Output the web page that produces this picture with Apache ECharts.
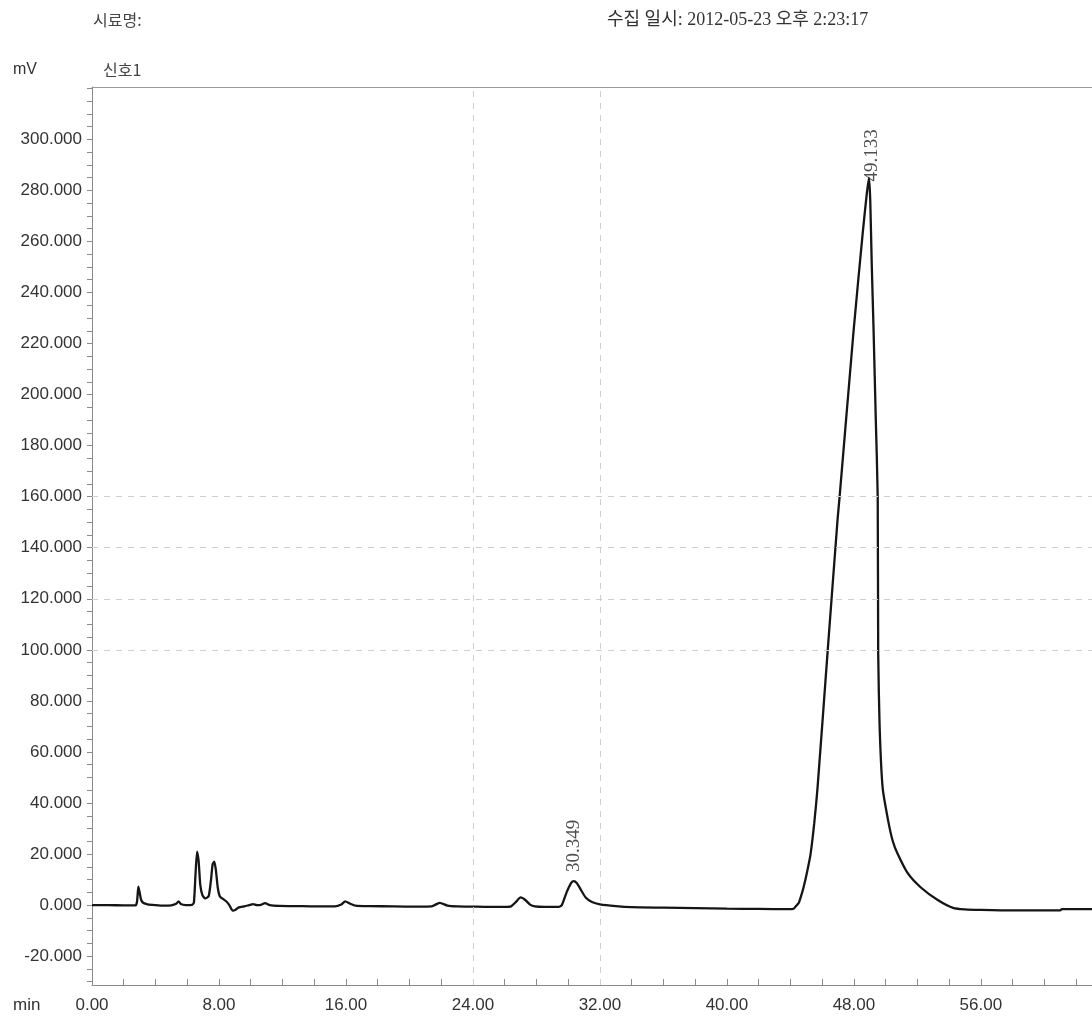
<!DOCTYPE html>
<html><head><meta charset="utf-8">
<script src="https://cdn.jsdelivr.net/npm/echarts@6/dist/echarts.min.js"></script>
<style>html,body{margin:0;padding:0;background:#fff}#c{width:1092px;height:1018px}</style>
</head><body><div id="c"></div>
<script>
// retention time (min)
const times = [0,1,2,2.75,2.84,2.92,3.0,3.1,3.25,3.5,4,4.5,5,5.3,5.45,5.6,5.9,6.3,6.42,6.52,6.62,6.72,6.82,6.95,7.13,7.35,7.5,7.6,7.7,7.8,7.92,8.05,8.25,8.45,8.65,8.87,9.05,9.25,9.6,9.9,10.15,10.4,10.65,10.9,11.2,11.8,13,14,15.3,15.7,15.95,16.25,16.6,17.5,19,20.5,21.4,21.9,22.4,23,24,25,26,26.4,26.7,27,27.3,27.6,27.9,28.5,29.4,29.6,29.9,30.2,30.35,30.55,30.8,31.1,31.5,32,33,34,36,38,40,42,43.9,44.2,44.36,44.52,44.67,44.83,45.05,45.27,45.5,45.71,46.34,46.97,47.1,47.98,48.55,48.8,48.95,49.03,49.12,49.24,49.38,49.5,49.53,49.62,49.81,50.16,50.45,50.76,51.39,52.2,53.28,54.29,55.0,56,58,60,61,61.1,62,63];
// detector signal (mV)
const signal = [0,0,-0.1,-0.1,1.5,7.2,5.0,2.0,0.8,0.3,0,-0.2,-0.1,0.5,1.5,0.4,0,0.1,1.0,12,20.9,17,8,4,2.6,3.5,10,16,17,14,7,3.5,2.4,1.5,0,-2.2,-1.8,-0.9,-0.5,0,0.4,0,0.1,0.8,0,-0.3,-0.4,-0.5,-0.5,0.2,1.5,0.6,-0.2,-0.4,-0.5,-0.6,-0.5,0.9,-0.2,-0.5,-0.6,-0.7,-0.7,-0.5,1.2,3,2,0.2,-0.5,-0.7,-0.7,0,5,8.8,9.4,8.6,6,3,1.2,0.3,-0.4,-0.8,-1.0,-1.2,-1.4,-1.5,-1.6,-1.4,-0.3,0.8,3.5,7,13,20,32,46,99,151,160,225,263,278,285,276,252,225,190,160,99,70,46,33,25,20,12.5,7,2,-1.2,-1.7,-1.9,-2.1,-2.1,-2.1,-1.6,-1.6,-1.6];
// labelled peaks
const peakTimes = [30.349, 49.133];
const peakHeights = [9.4, 285];
const peakLabels = ['30.349', '49.133'];
// axis ticks / labels
const yLabelValues = [-20,0,20,40,60,80,100,120,140,160,180,200,220,240,260,280,300];
const yTickValues = [];
for (let v = -30; v <= 320; v += 5) yTickValues.push(v);
const xLabelValues = [0,8,16,24,32,40,48,56];
const xTickValues = [];
for (let v = 0; v <= 62; v += 2) xTickValues.push(v);
const dashedY = [100,120,140,160];
const dashedX = [24,32];

const chart = echarts.init(document.getElementById('c'));
const axisGray = '#8a8a8a';
const textCol = '#333';
chart.setOption({
  animation: false,
  backgroundColor: '#fff',
  grid: { left: 92, top: 87, right: 0, bottom: 33, containLabel: false, outerBoundsMode: 'none' },
  xAxis: [{
    type: 'value', min: 0, max: 63,
    axisLine: { show: true, onZero: false, lineStyle: { color: axisGray, width: 1 } },
    axisTick: { show: true, inside: true, length: 6, customValues: xTickValues, lineStyle: { color: axisGray } },
    axisLabel: { color: textCol, fontFamily: 'Liberation Sans, Arial, sans-serif', fontSize: 17, margin: 12,
      customValues: xLabelValues, formatter: v => v.toFixed(2) },
    splitLine: { show: false }
  }, {
    type: 'value', min: 0, max: 63, position: 'top',
    axisLine: { show: true, onZero: false, lineStyle: { color: '#999', width: 1 } },
    axisTick: { show: false }, axisLabel: { show: false }, splitLine: { show: false }
  }],
  yAxis: {
    type: 'value', min: -31.3, max: 320.5,
    axisLine: { show: true, onZero: false, lineStyle: { color: axisGray, width: 1 } },
    axisTick: { show: true, length: 5, customValues: yTickValues, lineStyle: { color: axisGray } },
    axisLabel: { color: textCol, fontFamily: 'Liberation Sans, Arial, sans-serif', fontSize: 17, margin: 10,
      customValues: yLabelValues, formatter: v => v.toFixed(3) },
    splitLine: { show: false }
  },
  series: [{
    type: 'line',
    data: times.map((t, i) => [t, signal[i]]),
    showSymbol: false, symbol: 'none',
    smooth: 0.2,
    lineStyle: { color: '#151515', width: 2.3 },
    markLine: {
      silent: true, symbol: ['none', 'none'],
      label: { show: false },
      lineStyle: { color: '#cfcfcf', type: [6, 6], width: 1 },
      data: dashedY.map(v => ({ yAxis: v })).concat(dashedX.map(v => ({ xAxis: v })))
    },
    z: 3
  }, {
    type: 'scatter',
    symbolSize: 0,
    data: peakTimes.map((t, i) => ({
      value: [t, peakHeights[i]],
      label: { distance: i === 0 ? 9 : -4 }
    })),
    label: {
      show: true, position: 'top', rotate: 90, align: 'left', verticalAlign: 'middle',
      color: '#222', fontFamily: 'Liberation Serif, Times New Roman, serif', fontSize: 19,
      formatter: p => peakLabels[p.dataIndex]
    },
    z: 4
  }],
  graphic: [
    { type: 'text', left: 93, top: 12, style: { text: '시료명:', fill: '#444', font: '16px "Noto Sans CJK KR"' } },
    { type: 'text', left: 607, top: 11, style: { text: '수집 일시: 2012-05-23 오후 2:23:17', fill: '#333', font: '18px "Liberation Serif", "Noto Sans CJK KR"' } },
    { type: 'text', left: 13, top: 62, style: { text: 'mV', fill: '#333', font: '16px "Liberation Sans", Arial, sans-serif' } },
    { type: 'text', left: 103, top: 62, style: { text: '신호1', fill: '#444', font: '16px "Noto Sans CJK KR"' } },
    { type: 'text', left: 13, top: 997, style: { text: 'min', fill: '#333', font: '17px "Liberation Sans", Arial, sans-serif' } }
  ]
});
</script>
</body></html>
